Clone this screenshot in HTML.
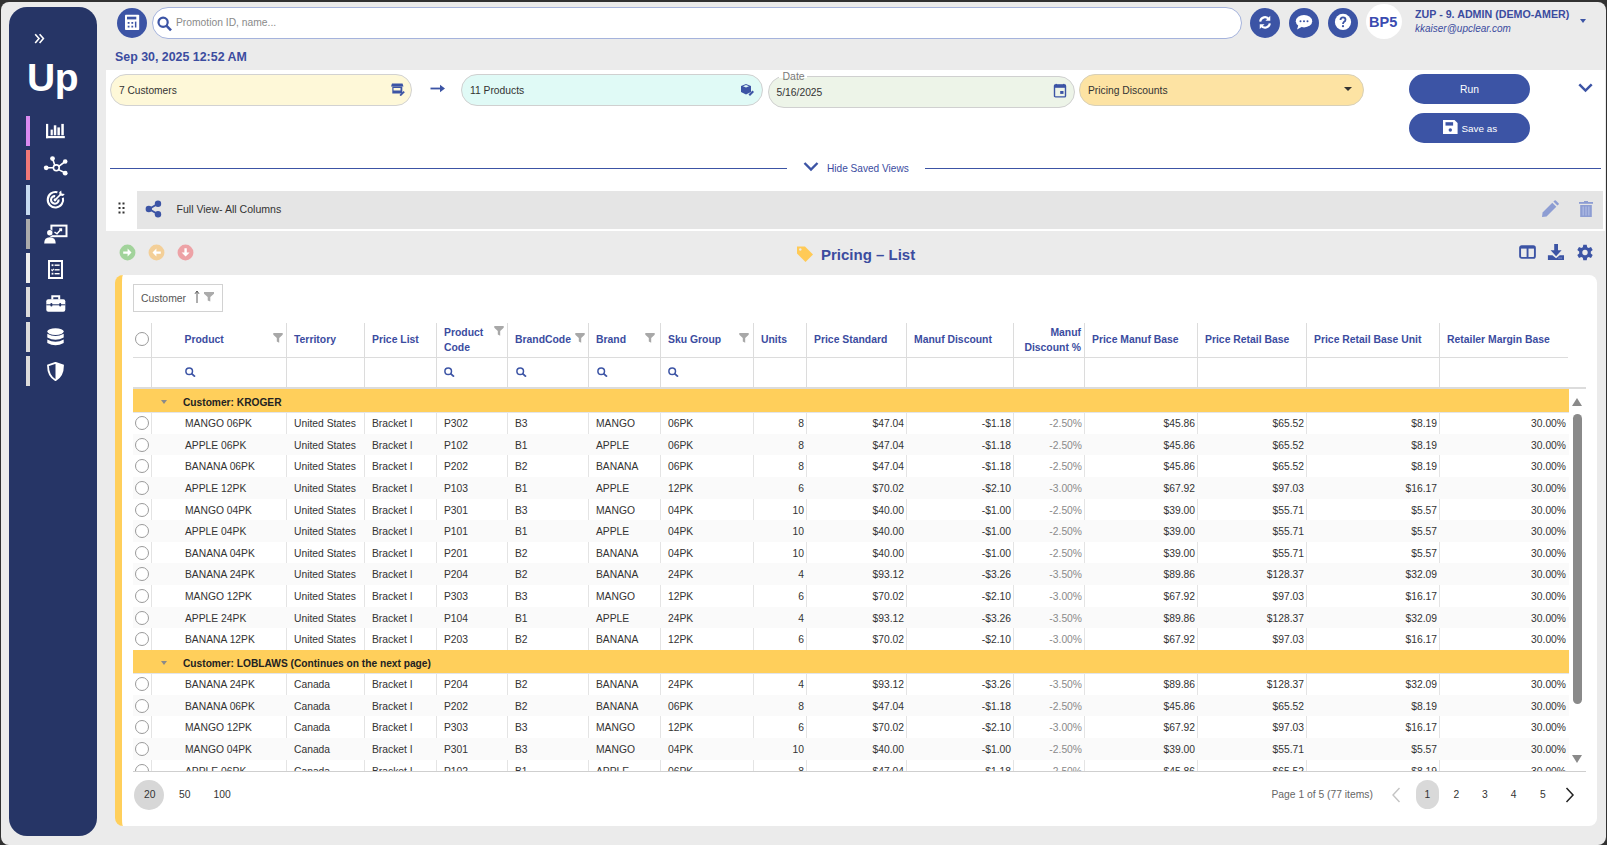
<!DOCTYPE html>
<html><head><meta charset="utf-8">
<style>
*{box-sizing:border-box;margin:0;padding:0}
html,body{width:1607px;height:845px;overflow:hidden;background:#313131;font-family:"Liberation Sans",sans-serif;color:#333}
.a{position:absolute}
.win{position:absolute;left:1px;top:2px;width:1605px;height:843px;background:#ebebeb;border-radius:8px}
.side{position:absolute;left:9px;top:7px;width:88px;height:829px;background:#263566;border-radius:18px}
.bar{position:absolute;left:26px;width:4px;height:30px}
.sico{position:absolute;left:46px;width:18px;height:18px}
.circ{position:absolute;width:30px;height:30px;border-radius:50%;background:#3c54a5}
.circ svg{position:absolute;left:0;top:0}
.t{position:absolute;white-space:nowrap;line-height:1}
.blue{color:#3b4c9f}
.pill{position:absolute;height:31.5px;border-radius:16px;border:1px solid #d0d0d0}
.btn{position:absolute;left:1409px;width:121px;height:30px;border-radius:15px;background:#3c54a5;color:#fff}
.tbl{position:absolute;left:133px;top:323px;width:1453px;height:449px;overflow:hidden}
.hl{position:absolute;background:#dcdcdc}
.hv{position:absolute;top:0;width:1px;height:64px;background:#dcdcdc}
.ht{position:absolute;font-size:10.4px;font-weight:bold;color:#3b4c9f;white-space:nowrap;line-height:1}
.fun{position:absolute;width:10px;height:10px}
.srch{position:absolute;top:44px;width:11px;height:10px}
.body{position:absolute;left:0;top:66px;width:1436px;height:382px;overflow:hidden}
.vl{position:absolute;top:0;width:1px;height:382px;background:#e4e4e4}
.row{position:absolute;left:0;width:1436px;height:21.64px}
.row.alt{background:#fafafa}
.rad{position:absolute;left:2px;top:4px;width:14px;height:14px;border-radius:50%;border:1px solid #9a9a9a;background:#fff}
.c{position:absolute;top:1px;height:21.64px;line-height:21.64px;font-size:10.3px;color:#333;padding-left:7px;white-space:nowrap;overflow:hidden}
.c.r{text-align:right;padding-left:0;padding-right:2px}
.c.g{color:#8a8a8a}
.grp{position:absolute;left:0;width:1436px;height:23px;background:#ffcf5b}
.grp::after{content:"";position:absolute;left:0;top:23px;width:100%;height:1px;background:#e3e5e9}
.grp b{position:absolute;left:50px;top:8.5px;font-size:10.2px;color:#222;white-space:nowrap;line-height:1}
.grp i{position:absolute;left:28px;top:11px;width:0;height:0;border-left:3.5px solid transparent;border-right:3.5px solid transparent;border-top:4px solid #8a8a8a}
</style></head>
<body>
<div class="win"></div>

<!-- SIDEBAR -->
<div class="side">
  <svg class="a" style="left:25px;top:26px" width="12" height="12" viewBox="0 0 12 12"><path d="M1.2 1.2 L5 5.6 L1.2 10 M5.6 1.2 L9.4 5.6 L5.6 10" fill="none" stroke="#fff" stroke-width="1.6"/></svg>
  <div class="t" style="left:18px;top:51px;font-size:39px;font-weight:bold;color:#fff;letter-spacing:-0.3px">Up</div>
  <i class="bar" style="left:17px;top:109px;background:#d98af0"></i>
  <i class="bar" style="left:17px;top:143px;background:#f07878"></i>
  <i class="bar" style="left:17px;top:178px;background:#c7dbf0"></i>
  <i class="bar" style="left:17px;top:212px;background:#ababab"></i>
  <i class="bar" style="left:17px;top:246px;background:#ededed"></i>
  <i class="bar" style="left:17px;top:280px;background:#dcdcdc"></i>
  <i class="bar" style="left:17px;top:315px;background:#dcdcdc"></i>
  <i class="bar" style="left:17px;top:349px;background:#dcdcdc"></i>
  <!-- icons -->
  <svg class="a" style="left:36px;top:116px" width="21" height="16" viewBox="0 0 21 16"><g fill="#fff"><rect x="1" y="0.9" width="2.2" height="14.3"/><rect x="1" y="13" width="18.8" height="2.2"/><rect x="5.6" y="6.6" width="2.2" height="5.7"/><rect x="8.8" y="2.3" width="2.5" height="10"/><rect x="12.4" y="4.4" width="2.5" height="7.9"/><rect x="16.3" y="0.9" width="2.5" height="11.4"/></g></svg>
  <svg class="a" style="left:34px;top:149px" width="25" height="21" viewBox="0 0 25 21"><g stroke="#fff" stroke-width="1.6" fill="none"><circle cx="13.3" cy="11.8" r="2.9"/><path d="M11.8 9.3 L9.5 2.5 M15.8 10.3 L22.2 5.5 M10.4 11.8 H3.2 M15.6 13.6 L22.2 17"/></g><g fill="#fff"><circle cx="9.5" cy="2.6" r="2.4"/><circle cx="22.2" cy="5.5" r="2.3"/><circle cx="3.2" cy="11.8" r="2.4"/><circle cx="22.2" cy="17.2" r="2.4"/></g></svg>
  <svg class="a" style="left:37px;top:183px" width="20" height="20" viewBox="0 0 20 20"><g fill="none" stroke="#fff" stroke-width="2.1"><path d="M16.9 7.8 A7.7 7.7 0 1 1 11.4 2.3"/><path d="M12.6 9.5 A3.8 3.8 0 1 1 9.2 6.1"/></g><circle cx="9" cy="10" r="1.4" fill="#fff"/><path d="M9.2 9.8 L15 4" stroke="#fff" stroke-width="1.7"/><path d="M13.2 2.2 L15.2 0.5 L15.6 3.6 L18.8 4 L17 6 L13.8 5.6 Z" fill="#fff"/></svg>
  <svg class="a" style="left:35px;top:217px" width="24" height="20" viewBox="0 0 24 20"><rect x="7.4" y="1.6" width="15.1" height="10.6" fill="none" stroke="#fff" stroke-width="2"/><path d="M10.5 8 L13 9.8 L17 5.3 M15.2 5 H17.4 V7.2" fill="none" stroke="#fff" stroke-width="1.5"/><circle cx="5.8" cy="8.8" r="3.3" fill="#263566"/><circle cx="5.8" cy="8.8" r="2.7" fill="#fff"/><path d="M0.2 19.5 Q0.2 13.2 5.8 13.2 Q11.7 13.2 11.7 19.5 Z" fill="#fff"/></svg>
  <svg class="a" style="left:39px;top:252.5px" width="15" height="19" viewBox="0 0 15 19"><rect x="1" y="1" width="13" height="17" fill="none" stroke="#fff" stroke-width="2"/><g fill="#fff"><rect x="3.6" y="4.3" width="1.8" height="1.8"/><rect x="6.6" y="4.5" width="5" height="1.4"/><path d="M3.3 9.5 L4.4 10.6 L5.8 8.8" fill="none" stroke="#fff" stroke-width="1.1"/><rect x="6.6" y="9.1" width="5" height="1.4"/><rect x="3.6" y="12.8" width="1.8" height="1.8"/><rect x="6.6" y="13" width="5" height="1.4"/></g></svg>
  <svg class="a" style="left:36.5px;top:287.5px" width="20" height="18" viewBox="0 0 20 18"><path d="M6.3 4.5 V1.3 H13.2 V4.5" fill="none" stroke="#fff" stroke-width="2"/><rect x="0.3" y="4.3" width="19" height="12.4" rx="2" fill="#fff"/><rect x="0.3" y="9.3" width="19" height="1" fill="#263566"/><rect x="4.4" y="8" width="2" height="3.4" rx="1" fill="#263566"/><rect x="13.2" y="8" width="2" height="3.4" rx="1" fill="#263566"/></svg>
  <svg class="a" style="left:38px;top:321px" width="17" height="19" viewBox="0 0 17 19"><ellipse cx="8.5" cy="3.6" rx="8.2" ry="3.4" fill="#fff"/><path d="M0.3 5.8 Q8.5 10.4 16.7 5.8 V9.4 Q8.5 14 0.3 9.4 Z" fill="#fff"/><path d="M0.3 11.4 Q8.5 16 16.7 11.4 V15 Q8.5 19.6 0.3 15 Z" fill="#fff"/></svg>
  <svg class="a" style="left:38px;top:355px" width="17" height="19" viewBox="0 0 17 19"><path d="M8.5 0.8 L16 3.5 Q16 14 8.5 18.2 Q1 14 1 3.5 Z" fill="none" stroke="#fff" stroke-width="1.8"/><path d="M8.5 0.8 L16 3.5 Q16 14 8.5 18.2 Z" fill="#fff"/></svg>
</div>

<!-- TOP BAR -->
<div class="circ" style="left:117px;top:8px"><svg width="30" height="30" viewBox="0 0 30 30"><rect x="8" y="6.7" width="14.2" height="15.3" rx="0.8" fill="#fff"/><rect x="10" y="8.7" width="9.3" height="2.7" fill="#3c54a5"/><g fill="#3c54a5"><rect x="10.7" y="14" width="1.8" height="1.8"/><rect x="14.4" y="14" width="1.8" height="1.8"/><rect x="10.7" y="17.7" width="1.8" height="1.8"/><rect x="14.4" y="17.7" width="1.8" height="1.8"/><rect x="17.9" y="13.6" width="1.5" height="5.9"/></g></svg></div>
<div class="a" style="left:152px;top:7px;width:1090px;height:32px;border-radius:16px;border:1px solid #a5b3dc;background:#fff"></div>
<svg class="a" style="left:157px;top:16px" width="16" height="16" viewBox="0 0 16 16"><circle cx="6.1" cy="6.3" r="4.6" fill="none" stroke="#3c54a5" stroke-width="2.2"/><path d="M9.4 9.7 L14 14.3" stroke="#3c54a5" stroke-width="2.6"/></svg>
<div class="t" style="left:176px;top:18px;font-size:10.3px;color:#8a8a8a">Promotion ID, name...</div>

<div class="circ" style="left:1250px;top:8px"><svg width="30" height="30" viewBox="0 0 30 30"><g transform="translate(15 14.4) scale(0.88) translate(-15 -15)"><g fill="none" stroke="#fff" stroke-width="2.4"><path d="M9.5 14 A5.5 5.5 0 0 1 19.5 11.5"/><path d="M20.5 16 A5.5 5.5 0 0 1 10.5 18.5"/></g><path d="M21 7.5 V13 H15.5 Z" fill="#fff"/><path d="M9 22.5 V17 H14.5 Z" fill="#fff"/></g></svg></div>
<div class="circ" style="left:1289px;top:8px"><svg width="30" height="30" viewBox="0 0 30 30"><ellipse cx="15" cy="13.2" rx="8.2" ry="6.2" fill="#fff"/><path d="M9.5 16.8 L8 21.5 L13 18.8 Z" fill="#fff"/><g fill="#3c54a5"><circle cx="11.5" cy="13.2" r="1"/><circle cx="15" cy="13.2" r="1"/><circle cx="18.5" cy="13.2" r="1"/></g></svg></div>
<div class="circ" style="left:1328px;top:8px"><svg width="30" height="30" viewBox="0 0 30 30"><circle cx="15" cy="13.9" r="8.1" fill="#fff"/><path d="M12.5 11.9 Q12.5 9.3 15 9.3 Q17.5 9.3 17.5 11.7 Q17.5 13 15.9 13.9 Q15 14.5 15 16" fill="none" stroke="#3c54a5" stroke-width="1.8"/><circle cx="15" cy="18.2" r="1.1" fill="#3c54a5"/></svg></div>
<div class="a" style="left:1366px;top:4px;width:36px;height:35px;border-radius:50%;background:#fff"></div>
<div class="t" style="left:1369px;top:15px;font-size:14.5px;font-weight:bold;color:#3a4bb0">BP5</div>
<div class="t blue" style="left:1415px;top:9px;font-size:10.7px;font-weight:bold">ZUP - 9. ADMIN (DEMO-AMER)</div>
<div class="t blue" style="left:1415px;top:24px;font-size:10px;font-style:italic">kkaiser@upclear.com</div>
<i class="a" style="left:1580px;top:19px;width:0;height:0;border-left:3.5px solid transparent;border-right:3.5px solid transparent;border-top:4px solid #3c54a5"></i>

<div class="t blue" style="left:115px;top:51px;font-size:12.4px;font-weight:bold">Sep 30, 2025 12:52 AM</div>

<!-- WHITE PANEL -->
<div class="a" style="left:106px;top:70px;width:1499px;height:161px;background:#fff"></div>

<div class="pill" style="left:110px;top:74px;width:302px;background:#fef8d8;border-color:#d2d2d2"></div>
<div class="t" style="left:119px;top:86px;font-size:10.2px;color:#333">7 Customers</div>
<svg class="a" style="left:390.5px;top:82px" width="14" height="14" viewBox="0 0 14 14"><path d="M1 1.5 H11.5 L12.5 4.5 H0 Z" fill="#3c54a5"/><rect x="1.3" y="4.5" width="10" height="7" fill="#3c54a5"/><rect x="2.5" y="6" width="7" height="2.5" fill="#fef8d8"/><path d="M8.5 13 L12.5 9 L13.8 10.3 L9.8 14.2 Z" fill="#3c54a5"/></svg>
<svg class="a" style="left:430px;top:84px" width="16" height="9" viewBox="0 0 16 9"><path d="M0.5 4.5 H12" stroke="#3c54a5" stroke-width="1.8"/><path d="M10 0.8 L15 4.5 L10 8.2 Z" fill="#3c54a5"/></svg>

<div class="pill" style="left:461px;top:74px;width:302px;background:#e0faf6;border-color:#d0d0d0"></div>
<div class="t" style="left:470px;top:86px;font-size:10.3px;color:#333">11 Products</div>
<svg class="a" style="left:740px;top:83px" width="15" height="14" viewBox="0 0 15 14"><path d="M1 3 L6 1 L11 3 V9 L6 11.5 L1 9 Z" fill="#3c54a5"/><path d="M3 3.2 L6 2.1 L9 3.2 L6 4.4 Z" fill="#e0faf6"/><path d="M8.5 11.5 L12.5 7.5 L14 9 L10 13 Z" fill="#3c54a5"/></svg>

<div class="pill" style="left:768px;top:76px;width:307px;background:#edf4e8;border-color:#d0d0d0"></div>
<div class="a" style="left:779px;top:70px;width:28px;height:8px;background:#fff"></div>
<div class="t" style="left:782.5px;top:71px;font-size:10.5px;color:#7a7a7a">Date</div>
<div class="t" style="left:776.5px;top:88px;font-size:10.3px;color:#333">5/16/2025</div>
<svg class="a" style="left:1053px;top:83px" width="14" height="15" viewBox="0 0 14 15"><rect x="1.5" y="2" width="11" height="11.9" rx="1" fill="none" stroke="#3c54a5" stroke-width="1.4"/><rect x="1" y="1.8" width="12" height="3" fill="#3c54a5"/><rect x="2.6" y="0.9" width="1.4" height="1.5" fill="#3c54a5"/><rect x="10" y="0.9" width="1.4" height="1.5" fill="#3c54a5"/><rect x="7.2" y="8" width="3.3" height="2.9" fill="#3c54a5"/></svg>

<div class="pill" style="left:1079px;top:74px;width:285px;background:#fde3a3;border-color:#d8d0b8"></div>
<div class="t" style="left:1088px;top:86px;font-size:10.3px;color:#333">Pricing Discounts</div>
<i class="a" style="left:1344px;top:87px;width:0;height:0;border-left:4.5px solid transparent;border-right:4.5px solid transparent;border-top:4.5px solid #333"></i>

<div class="btn" style="top:74px"><div class="t" style="left:51px;top:11px;font-size:10.3px">Run</div></div>
<div class="btn" style="top:113px"><svg class="a" style="left:33.5px;top:6.7px" width="15" height="14" viewBox="0 0 15 14"><path d="M0 0 H11.5 L14.6 3.1 V14 H0 Z" fill="#fff"/><rect x="2.5" y="2.2" width="7.6" height="3.4" fill="#3c54a5"/><circle cx="7.3" cy="10" r="1.7" fill="#3c54a5"/></svg><div class="t" style="left:52.5px;top:10.8px;font-size:9.9px">Save as</div></div>
<svg class="a" style="left:1578px;top:83px" width="15" height="10" viewBox="0 0 15 10"><path d="M1.3 1.4 L7.5 7.6 L13.7 1.4" fill="none" stroke="#3c54a5" stroke-width="2.5"/></svg>

<i class="a" style="left:110px;top:168px;width:677px;height:1px;background:#3c54a5"></i>
<i class="a" style="left:925px;top:168px;width:676px;height:1px;background:#3c54a5"></i>
<svg class="a" style="left:803px;top:161px" width="16" height="11" viewBox="0 0 16 11"><path d="M1.5 2 L8 8.5 L14.5 2" fill="none" stroke="#3c54a5" stroke-width="2.4"/></svg>
<div class="t blue" style="left:827px;top:164px;font-size:10.1px">Hide Saved Views</div>

<div class="a" style="left:137px;top:191px;width:1466px;height:38px;background:#e5e5e5"></div>
<svg class="a" style="left:118px;top:202px" width="7" height="12" viewBox="0 0 7 12"><g fill="#333"><rect x="0.5" y="0.5" width="2" height="2"/><rect x="4.5" y="0.5" width="2" height="2"/><rect x="0.5" y="5" width="2" height="2"/><rect x="4.5" y="5" width="2" height="2"/><rect x="0.5" y="9.5" width="2" height="2"/><rect x="4.5" y="9.5" width="2" height="2"/></g></svg>
<svg class="a" style="left:145px;top:200px" width="17" height="18" viewBox="0 0 17 18"><path d="M4 9 L12.5 4 M4 9 L12.5 14" stroke="#3c54a5" stroke-width="2"/><circle cx="3.8" cy="9" r="3.2" fill="#3c54a5"/><circle cx="13" cy="3.8" r="3.2" fill="#3c54a5"/><circle cx="13" cy="14.2" r="3.2" fill="#3c54a5"/></svg>
<div class="t" style="left:176.5px;top:204px;font-size:10.55px;color:#333">Full View- All Columns</div>
<svg class="a" style="left:1541px;top:200px" width="18" height="18" viewBox="0 0 18 18"><path d="M1 17 L1.6 12.4 L11.3 2.7 L15.3 6.7 L5.6 16.4 Z" fill="#8d9dd3"/><path d="M12.4 1.6 L13.6 0.4 Q14.2 -0.1 14.8 0.4 L17.6 3.2 Q18.1 3.8 17.6 4.4 L16.4 5.6 Z" fill="#8d9dd3"/></svg>
<svg class="a" style="left:1579px;top:201px" width="14" height="16" viewBox="0 0 14 16"><rect x="0" y="1" width="14" height="1.8" fill="#8d9dd3"/><rect x="5" y="0" width="4" height="1.2" fill="#8d9dd3"/><rect x="1.2" y="4" width="11.6" height="12" fill="#8d9dd3"/><g fill="#b3bfe6"><rect x="3.6" y="5.5" width="1.1" height="9"/><rect x="6.45" y="5.5" width="1.1" height="9"/><rect x="9.3" y="5.5" width="1.1" height="9"/></g></svg>

<!-- ACTION CIRCLES -->
<svg class="a" style="left:119px;top:244px" width="17" height="17" viewBox="0 0 17 17"><circle cx="8.5" cy="8.5" r="7.9" fill="#a2d39b"/><path d="M4.2 7.4 H8.6 V4.6 L12.5 8.6 L8.6 12.6 V9.8 H4.2 Z" fill="#fff"/></svg>
<svg class="a" style="left:147.5px;top:244px" width="17" height="17" viewBox="0 0 17 17"><circle cx="8.5" cy="8.5" r="7.9" fill="#f3cf98"/><path d="M12.8 7.4 H8.4 V4.6 L4.5 8.6 L8.4 12.6 V9.8 H12.8 Z" fill="#fff"/></svg>
<svg class="a" style="left:176.5px;top:244px" width="17" height="17" viewBox="0 0 17 17"><circle cx="8.5" cy="8.5" r="7.9" fill="#eda2a6"/><path d="M7.4 4.2 V8.6 H4.6 L8.6 12.5 L12.6 8.6 H9.8 V4.2 Z" fill="#fff"/></svg>

<!-- TITLE -->
<svg class="a" style="left:796px;top:245px" width="18" height="18" viewBox="0 0 18 18"><path d="M1 1.5 H9 L17 9.5 L9.5 17 L1 8.5 Z" fill="#ffca56"/><circle cx="4.3" cy="4.5" r="1.2" fill="#ebebeb"/></svg>
<div class="t blue" style="left:821px;top:247px;font-size:15px;font-weight:bold">Pricing – List</div>
<svg class="a" style="left:1519px;top:245px" width="17" height="14" viewBox="0 0 17 14"><rect x="1.1" y="1.1" width="14.8" height="11.8" rx="1.6" fill="none" stroke="#3c54a5" stroke-width="1.9"/><rect x="1" y="1" width="15" height="2.6" fill="#3c54a5"/><rect x="7.6" y="2" width="1.9" height="10" fill="#3c54a5"/></svg>
<svg class="a" style="left:1547px;top:244px" width="18" height="16" viewBox="0 0 18 16"><path d="M7.2 0 H11 V6.3 H14.6 L9.1 12.2 L3.6 6.3 H7.2 Z" fill="#3c54a5"/><path d="M0.9 11.2 H5.4 L9.1 14.3 L12.8 11.2 H17 V15.9 H0.9 Z" fill="#3c54a5"/><rect x="11.4" y="13.6" width="1.3" height="0.9" fill="#a9b3de"/><rect x="13.4" y="13.6" width="1.3" height="0.9" fill="#a9b3de"/></svg>
<svg class="a" style="left:1576px;top:243.5px" width="18" height="18" viewBox="0 0 18 18"><path fill="#3c54a5" d="M7.3 0.8h3.4l0.5 2.4 1.5 0.8 2.3-0.9 1.7 2.9-1.9 1.6v1.8l1.9 1.6-1.7 2.9-2.3-0.9-1.5 0.8-0.5 2.4H7.3l-0.5-2.4-1.5-0.8-2.3 0.9-1.7-2.9 1.9-1.6V7.6L1.3 6 3 3.1l2.3 0.9 1.5-0.8z"/><circle cx="9" cy="8.5" r="2.7" fill="#ebebeb"/></svg>

<!-- CONTENT CARD -->
<div class="a" style="left:115px;top:275px;width:1482px;height:551px;background:#fff;border-radius:8px;border-left:7px solid #ffcf5b"></div>

<div class="a" style="left:133px;top:284px;width:90px;height:28px;border:1px solid #d2d2d2"></div>
<div class="t" style="left:141px;top:294px;font-size:10.4px;color:#555">Customer</div>
<svg class="a" style="left:193.5px;top:290px" width="6" height="14" viewBox="0 0 6 14"><path d="M3 1.5 V13" stroke="#4a4a4a" stroke-width="0.9"/><path d="M1 3.8 L3 1 L5 3.8" fill="none" stroke="#4a4a4a" stroke-width="0.9"/></svg>
<svg class="a" style="left:204px;top:292px" width="10" height="10" viewBox="0 0 10 10"><path d="M0 0 H10 V1.8 L6.3 5 V9.5 L3.7 8.5 V5 L0 1.8 Z" fill="#ababab"/></svg>

<!-- TABLE -->
<div class="tbl">
  <i class="hl" style="left:0;top:34px;width:1435px;height:1px"></i>
  <i class="hl" style="left:0;top:64px;width:1453px;height:2px"></i>
  <i class="hv" style="left:18px"></i><i class="hv" style="left:153px"></i><i class="hv" style="left:231px"></i><i class="hv" style="left:303px"></i><i class="hv" style="left:374px"></i><i class="hv" style="left:455px"></i><i class="hv" style="left:527px"></i><i class="hv" style="left:620px"></i><i class="hv" style="left:673px"></i><i class="hv" style="left:773px"></i><i class="hv" style="left:880px"></i><i class="hv" style="left:951px"></i><i class="hv" style="left:1064px"></i><i class="hv" style="left:1173px"></i><i class="hv" style="left:1306px"></i>
  <i class="a" style="left:2px;top:9px;width:14px;height:14px;border-radius:50%;border:1px solid #9a9a9a"></i>
  <div class="ht" style="left:51.5px;top:12.0px">Product</div>
  <div class="ht" style="left:161px;top:12.0px">Territory</div>
  <div class="ht" style="left:239px;top:12.0px">Price List</div>
  <div class="ht" style="left:311px;top:5.0px">Product</div>
  <div class="ht" style="left:311px;top:20.0px">Code</div>
  <div class="ht" style="left:382px;top:12.0px">BrandCode</div>
  <div class="ht" style="left:463px;top:12.0px">Brand</div>
  <div class="ht" style="left:535px;top:12.0px">Sku Group</div>
  <div class="ht" style="left:628px;top:12.0px">Units</div>
  <div class="ht" style="left:681px;top:12.0px">Price Standard</div>
  <div class="ht" style="left:781px;top:12.0px">Manuf Discount</div>
  <div class="ht" style="left:881px;top:5.0px;width:67px;text-align:right">Manuf</div>
  <div class="ht" style="left:881px;top:20.0px;width:67px;text-align:right">Discount %</div>
  <div class="ht" style="left:959px;top:12.0px">Price Manuf Base</div>
  <div class="ht" style="left:1072px;top:12.0px">Price Retail Base</div>
  <div class="ht" style="left:1181px;top:12.0px">Price Retail Base Unit</div>
  <div class="ht" style="left:1314px;top:12.0px">Retailer Margin Base</div>
  <svg class="fun" style="left:140px;top:10px" width="10" height="10" viewBox="0 0 10 10"><path d="M0.3 0 H9.7 V1.8 L6.2 5 V9.8 L3.8 8.6 V5 L0.3 1.8 Z" fill="#a8a8a8"/></svg><svg class="fun" style="left:361px;top:3px" width="10" height="10" viewBox="0 0 10 10"><path d="M0.3 0 H9.7 V1.8 L6.2 5 V9.8 L3.8 8.6 V5 L0.3 1.8 Z" fill="#a8a8a8"/></svg><svg class="fun" style="left:442px;top:10px" width="10" height="10" viewBox="0 0 10 10"><path d="M0.3 0 H9.7 V1.8 L6.2 5 V9.8 L3.8 8.6 V5 L0.3 1.8 Z" fill="#a8a8a8"/></svg><svg class="fun" style="left:512px;top:10px" width="10" height="10" viewBox="0 0 10 10"><path d="M0.3 0 H9.7 V1.8 L6.2 5 V9.8 L3.8 8.6 V5 L0.3 1.8 Z" fill="#a8a8a8"/></svg><svg class="fun" style="left:606px;top:10px" width="10" height="10" viewBox="0 0 10 10"><path d="M0.3 0 H9.7 V1.8 L6.2 5 V9.8 L3.8 8.6 V5 L0.3 1.8 Z" fill="#a8a8a8"/></svg>
  <svg class="srch" style="left:52px" width="11" height="10" viewBox="0 0 11 10"><circle cx="4.2" cy="4.2" r="3.3" fill="none" stroke="#3c54a5" stroke-width="1.5"/><path d="M6.6 6.6 L10 9.6" stroke="#3c54a5" stroke-width="1.8"/></svg><svg class="srch" style="left:311px" width="11" height="10" viewBox="0 0 11 10"><circle cx="4.2" cy="4.2" r="3.3" fill="none" stroke="#3c54a5" stroke-width="1.5"/><path d="M6.6 6.6 L10 9.6" stroke="#3c54a5" stroke-width="1.8"/></svg><svg class="srch" style="left:383px" width="11" height="10" viewBox="0 0 11 10"><circle cx="4.2" cy="4.2" r="3.3" fill="none" stroke="#3c54a5" stroke-width="1.5"/><path d="M6.6 6.6 L10 9.6" stroke="#3c54a5" stroke-width="1.8"/></svg><svg class="srch" style="left:464px" width="11" height="10" viewBox="0 0 11 10"><circle cx="4.2" cy="4.2" r="3.3" fill="none" stroke="#3c54a5" stroke-width="1.5"/><path d="M6.6 6.6 L10 9.6" stroke="#3c54a5" stroke-width="1.8"/></svg><svg class="srch" style="left:535px" width="11" height="10" viewBox="0 0 11 10"><circle cx="4.2" cy="4.2" r="3.3" fill="none" stroke="#3c54a5" stroke-width="1.5"/><path d="M6.6 6.6 L10 9.6" stroke="#3c54a5" stroke-width="1.8"/></svg>
  <div class="body">
    <i class="vl" style="left:18px"></i><i class="vl" style="left:153px"></i><i class="vl" style="left:231px"></i><i class="vl" style="left:303px"></i><i class="vl" style="left:374px"></i><i class="vl" style="left:455px"></i><i class="vl" style="left:527px"></i><i class="vl" style="left:620px"></i><i class="vl" style="left:673px"></i><i class="vl" style="left:773px"></i><i class="vl" style="left:880px"></i><i class="vl" style="left:951px"></i><i class="vl" style="left:1064px"></i><i class="vl" style="left:1173px"></i><i class="vl" style="left:1306px"></i>
    <div class="grp" style="top:0"><i></i><b>Customer: KROGER</b></div>
    <div class="grp" style="top:261px"><i></i><b>Customer: LOBLAWS (Continues on the next page)</b></div>
    <div class="row" style="top:23.0px"><i class="rad"></i><span class="c" style="left:19px;width:134px;padding-left:33px">MANGO 06PK</span><span class="c" style="left:154px;width:77px">United States</span><span class="c" style="left:232px;width:71px">Bracket I</span><span class="c" style="left:304px;width:70px">P302</span><span class="c" style="left:375px;width:80px">B3</span><span class="c" style="left:456px;width:71px">MANGO</span><span class="c" style="left:528px;width:92px">06PK</span><span class="c r" style="left:621px;width:52px">8</span><span class="c r" style="left:674px;width:99px">$47.04</span><span class="c r" style="left:774px;width:106px">-$1.18</span><span class="c r g" style="left:881px;width:70px">-2.50%</span><span class="c r" style="left:952px;width:112px">$45.86</span><span class="c r" style="left:1065px;width:108px">$65.52</span><span class="c r" style="left:1174px;width:132px">$8.19</span><span class="c r" style="left:1307px;width:128px">30.00%</span></div>
<div class="row alt" style="top:44.64px"><i class="rad"></i><span class="c" style="left:19px;width:134px;padding-left:33px">APPLE 06PK</span><span class="c" style="left:154px;width:77px">United States</span><span class="c" style="left:232px;width:71px">Bracket I</span><span class="c" style="left:304px;width:70px">P102</span><span class="c" style="left:375px;width:80px">B1</span><span class="c" style="left:456px;width:71px">APPLE</span><span class="c" style="left:528px;width:92px">06PK</span><span class="c r" style="left:621px;width:52px">8</span><span class="c r" style="left:674px;width:99px">$47.04</span><span class="c r" style="left:774px;width:106px">-$1.18</span><span class="c r g" style="left:881px;width:70px">-2.50%</span><span class="c r" style="left:952px;width:112px">$45.86</span><span class="c r" style="left:1065px;width:108px">$65.52</span><span class="c r" style="left:1174px;width:132px">$8.19</span><span class="c r" style="left:1307px;width:128px">30.00%</span></div>
<div class="row" style="top:66.28px"><i class="rad"></i><span class="c" style="left:19px;width:134px;padding-left:33px">BANANA 06PK</span><span class="c" style="left:154px;width:77px">United States</span><span class="c" style="left:232px;width:71px">Bracket I</span><span class="c" style="left:304px;width:70px">P202</span><span class="c" style="left:375px;width:80px">B2</span><span class="c" style="left:456px;width:71px">BANANA</span><span class="c" style="left:528px;width:92px">06PK</span><span class="c r" style="left:621px;width:52px">8</span><span class="c r" style="left:674px;width:99px">$47.04</span><span class="c r" style="left:774px;width:106px">-$1.18</span><span class="c r g" style="left:881px;width:70px">-2.50%</span><span class="c r" style="left:952px;width:112px">$45.86</span><span class="c r" style="left:1065px;width:108px">$65.52</span><span class="c r" style="left:1174px;width:132px">$8.19</span><span class="c r" style="left:1307px;width:128px">30.00%</span></div>
<div class="row alt" style="top:87.92px"><i class="rad"></i><span class="c" style="left:19px;width:134px;padding-left:33px">APPLE 12PK</span><span class="c" style="left:154px;width:77px">United States</span><span class="c" style="left:232px;width:71px">Bracket I</span><span class="c" style="left:304px;width:70px">P103</span><span class="c" style="left:375px;width:80px">B1</span><span class="c" style="left:456px;width:71px">APPLE</span><span class="c" style="left:528px;width:92px">12PK</span><span class="c r" style="left:621px;width:52px">6</span><span class="c r" style="left:674px;width:99px">$70.02</span><span class="c r" style="left:774px;width:106px">-$2.10</span><span class="c r g" style="left:881px;width:70px">-3.00%</span><span class="c r" style="left:952px;width:112px">$67.92</span><span class="c r" style="left:1065px;width:108px">$97.03</span><span class="c r" style="left:1174px;width:132px">$16.17</span><span class="c r" style="left:1307px;width:128px">30.00%</span></div>
<div class="row" style="top:109.56px"><i class="rad"></i><span class="c" style="left:19px;width:134px;padding-left:33px">MANGO 04PK</span><span class="c" style="left:154px;width:77px">United States</span><span class="c" style="left:232px;width:71px">Bracket I</span><span class="c" style="left:304px;width:70px">P301</span><span class="c" style="left:375px;width:80px">B3</span><span class="c" style="left:456px;width:71px">MANGO</span><span class="c" style="left:528px;width:92px">04PK</span><span class="c r" style="left:621px;width:52px">10</span><span class="c r" style="left:674px;width:99px">$40.00</span><span class="c r" style="left:774px;width:106px">-$1.00</span><span class="c r g" style="left:881px;width:70px">-2.50%</span><span class="c r" style="left:952px;width:112px">$39.00</span><span class="c r" style="left:1065px;width:108px">$55.71</span><span class="c r" style="left:1174px;width:132px">$5.57</span><span class="c r" style="left:1307px;width:128px">30.00%</span></div>
<div class="row alt" style="top:131.2px"><i class="rad"></i><span class="c" style="left:19px;width:134px;padding-left:33px">APPLE 04PK</span><span class="c" style="left:154px;width:77px">United States</span><span class="c" style="left:232px;width:71px">Bracket I</span><span class="c" style="left:304px;width:70px">P101</span><span class="c" style="left:375px;width:80px">B1</span><span class="c" style="left:456px;width:71px">APPLE</span><span class="c" style="left:528px;width:92px">04PK</span><span class="c r" style="left:621px;width:52px">10</span><span class="c r" style="left:674px;width:99px">$40.00</span><span class="c r" style="left:774px;width:106px">-$1.00</span><span class="c r g" style="left:881px;width:70px">-2.50%</span><span class="c r" style="left:952px;width:112px">$39.00</span><span class="c r" style="left:1065px;width:108px">$55.71</span><span class="c r" style="left:1174px;width:132px">$5.57</span><span class="c r" style="left:1307px;width:128px">30.00%</span></div>
<div class="row" style="top:152.84px"><i class="rad"></i><span class="c" style="left:19px;width:134px;padding-left:33px">BANANA 04PK</span><span class="c" style="left:154px;width:77px">United States</span><span class="c" style="left:232px;width:71px">Bracket I</span><span class="c" style="left:304px;width:70px">P201</span><span class="c" style="left:375px;width:80px">B2</span><span class="c" style="left:456px;width:71px">BANANA</span><span class="c" style="left:528px;width:92px">04PK</span><span class="c r" style="left:621px;width:52px">10</span><span class="c r" style="left:674px;width:99px">$40.00</span><span class="c r" style="left:774px;width:106px">-$1.00</span><span class="c r g" style="left:881px;width:70px">-2.50%</span><span class="c r" style="left:952px;width:112px">$39.00</span><span class="c r" style="left:1065px;width:108px">$55.71</span><span class="c r" style="left:1174px;width:132px">$5.57</span><span class="c r" style="left:1307px;width:128px">30.00%</span></div>
<div class="row alt" style="top:174.48px"><i class="rad"></i><span class="c" style="left:19px;width:134px;padding-left:33px">BANANA 24PK</span><span class="c" style="left:154px;width:77px">United States</span><span class="c" style="left:232px;width:71px">Bracket I</span><span class="c" style="left:304px;width:70px">P204</span><span class="c" style="left:375px;width:80px">B2</span><span class="c" style="left:456px;width:71px">BANANA</span><span class="c" style="left:528px;width:92px">24PK</span><span class="c r" style="left:621px;width:52px">4</span><span class="c r" style="left:674px;width:99px">$93.12</span><span class="c r" style="left:774px;width:106px">-$3.26</span><span class="c r g" style="left:881px;width:70px">-3.50%</span><span class="c r" style="left:952px;width:112px">$89.86</span><span class="c r" style="left:1065px;width:108px">$128.37</span><span class="c r" style="left:1174px;width:132px">$32.09</span><span class="c r" style="left:1307px;width:128px">30.00%</span></div>
<div class="row" style="top:196.12px"><i class="rad"></i><span class="c" style="left:19px;width:134px;padding-left:33px">MANGO 12PK</span><span class="c" style="left:154px;width:77px">United States</span><span class="c" style="left:232px;width:71px">Bracket I</span><span class="c" style="left:304px;width:70px">P303</span><span class="c" style="left:375px;width:80px">B3</span><span class="c" style="left:456px;width:71px">MANGO</span><span class="c" style="left:528px;width:92px">12PK</span><span class="c r" style="left:621px;width:52px">6</span><span class="c r" style="left:674px;width:99px">$70.02</span><span class="c r" style="left:774px;width:106px">-$2.10</span><span class="c r g" style="left:881px;width:70px">-3.00%</span><span class="c r" style="left:952px;width:112px">$67.92</span><span class="c r" style="left:1065px;width:108px">$97.03</span><span class="c r" style="left:1174px;width:132px">$16.17</span><span class="c r" style="left:1307px;width:128px">30.00%</span></div>
<div class="row alt" style="top:217.76px"><i class="rad"></i><span class="c" style="left:19px;width:134px;padding-left:33px">APPLE 24PK</span><span class="c" style="left:154px;width:77px">United States</span><span class="c" style="left:232px;width:71px">Bracket I</span><span class="c" style="left:304px;width:70px">P104</span><span class="c" style="left:375px;width:80px">B1</span><span class="c" style="left:456px;width:71px">APPLE</span><span class="c" style="left:528px;width:92px">24PK</span><span class="c r" style="left:621px;width:52px">4</span><span class="c r" style="left:674px;width:99px">$93.12</span><span class="c r" style="left:774px;width:106px">-$3.26</span><span class="c r g" style="left:881px;width:70px">-3.50%</span><span class="c r" style="left:952px;width:112px">$89.86</span><span class="c r" style="left:1065px;width:108px">$128.37</span><span class="c r" style="left:1174px;width:132px">$32.09</span><span class="c r" style="left:1307px;width:128px">30.00%</span></div>
<div class="row" style="top:239.4px"><i class="rad"></i><span class="c" style="left:19px;width:134px;padding-left:33px">BANANA 12PK</span><span class="c" style="left:154px;width:77px">United States</span><span class="c" style="left:232px;width:71px">Bracket I</span><span class="c" style="left:304px;width:70px">P203</span><span class="c" style="left:375px;width:80px">B2</span><span class="c" style="left:456px;width:71px">BANANA</span><span class="c" style="left:528px;width:92px">12PK</span><span class="c r" style="left:621px;width:52px">6</span><span class="c r" style="left:674px;width:99px">$70.02</span><span class="c r" style="left:774px;width:106px">-$2.10</span><span class="c r g" style="left:881px;width:70px">-3.00%</span><span class="c r" style="left:952px;width:112px">$67.92</span><span class="c r" style="left:1065px;width:108px">$97.03</span><span class="c r" style="left:1174px;width:132px">$16.17</span><span class="c r" style="left:1307px;width:128px">30.00%</span></div>
<div class="row" style="top:284.0px"><i class="rad"></i><span class="c" style="left:19px;width:134px;padding-left:33px">BANANA 24PK</span><span class="c" style="left:154px;width:77px">Canada</span><span class="c" style="left:232px;width:71px">Bracket I</span><span class="c" style="left:304px;width:70px">P204</span><span class="c" style="left:375px;width:80px">B2</span><span class="c" style="left:456px;width:71px">BANANA</span><span class="c" style="left:528px;width:92px">24PK</span><span class="c r" style="left:621px;width:52px">4</span><span class="c r" style="left:674px;width:99px">$93.12</span><span class="c r" style="left:774px;width:106px">-$3.26</span><span class="c r g" style="left:881px;width:70px">-3.50%</span><span class="c r" style="left:952px;width:112px">$89.86</span><span class="c r" style="left:1065px;width:108px">$128.37</span><span class="c r" style="left:1174px;width:132px">$32.09</span><span class="c r" style="left:1307px;width:128px">30.00%</span></div>
<div class="row alt" style="top:305.64px"><i class="rad"></i><span class="c" style="left:19px;width:134px;padding-left:33px">BANANA 06PK</span><span class="c" style="left:154px;width:77px">Canada</span><span class="c" style="left:232px;width:71px">Bracket I</span><span class="c" style="left:304px;width:70px">P202</span><span class="c" style="left:375px;width:80px">B2</span><span class="c" style="left:456px;width:71px">BANANA</span><span class="c" style="left:528px;width:92px">06PK</span><span class="c r" style="left:621px;width:52px">8</span><span class="c r" style="left:674px;width:99px">$47.04</span><span class="c r" style="left:774px;width:106px">-$1.18</span><span class="c r g" style="left:881px;width:70px">-2.50%</span><span class="c r" style="left:952px;width:112px">$45.86</span><span class="c r" style="left:1065px;width:108px">$65.52</span><span class="c r" style="left:1174px;width:132px">$8.19</span><span class="c r" style="left:1307px;width:128px">30.00%</span></div>
<div class="row" style="top:327.28px"><i class="rad"></i><span class="c" style="left:19px;width:134px;padding-left:33px">MANGO 12PK</span><span class="c" style="left:154px;width:77px">Canada</span><span class="c" style="left:232px;width:71px">Bracket I</span><span class="c" style="left:304px;width:70px">P303</span><span class="c" style="left:375px;width:80px">B3</span><span class="c" style="left:456px;width:71px">MANGO</span><span class="c" style="left:528px;width:92px">12PK</span><span class="c r" style="left:621px;width:52px">6</span><span class="c r" style="left:674px;width:99px">$70.02</span><span class="c r" style="left:774px;width:106px">-$2.10</span><span class="c r g" style="left:881px;width:70px">-3.00%</span><span class="c r" style="left:952px;width:112px">$67.92</span><span class="c r" style="left:1065px;width:108px">$97.03</span><span class="c r" style="left:1174px;width:132px">$16.17</span><span class="c r" style="left:1307px;width:128px">30.00%</span></div>
<div class="row alt" style="top:348.92px"><i class="rad"></i><span class="c" style="left:19px;width:134px;padding-left:33px">MANGO 04PK</span><span class="c" style="left:154px;width:77px">Canada</span><span class="c" style="left:232px;width:71px">Bracket I</span><span class="c" style="left:304px;width:70px">P301</span><span class="c" style="left:375px;width:80px">B3</span><span class="c" style="left:456px;width:71px">MANGO</span><span class="c" style="left:528px;width:92px">04PK</span><span class="c r" style="left:621px;width:52px">10</span><span class="c r" style="left:674px;width:99px">$40.00</span><span class="c r" style="left:774px;width:106px">-$1.00</span><span class="c r g" style="left:881px;width:70px">-2.50%</span><span class="c r" style="left:952px;width:112px">$39.00</span><span class="c r" style="left:1065px;width:108px">$55.71</span><span class="c r" style="left:1174px;width:132px">$5.57</span><span class="c r" style="left:1307px;width:128px">30.00%</span></div>
<div class="row" style="top:370.56px"><i class="rad"></i><span class="c" style="left:19px;width:134px;padding-left:33px">APPLE 06PK</span><span class="c" style="left:154px;width:77px">Canada</span><span class="c" style="left:232px;width:71px">Bracket I</span><span class="c" style="left:304px;width:70px">P102</span><span class="c" style="left:375px;width:80px">B1</span><span class="c" style="left:456px;width:71px">APPLE</span><span class="c" style="left:528px;width:92px">06PK</span><span class="c r" style="left:621px;width:52px">8</span><span class="c r" style="left:674px;width:99px">$47.04</span><span class="c r" style="left:774px;width:106px">-$1.18</span><span class="c r g" style="left:881px;width:70px">-2.50%</span><span class="c r" style="left:952px;width:112px">$45.86</span><span class="c r" style="left:1065px;width:108px">$65.52</span><span class="c r" style="left:1174px;width:132px">$8.19</span><span class="c r" style="left:1307px;width:128px">30.00%</span></div>
  </div>
  <i class="a" style="left:1439px;top:75px;width:0;height:0;border-left:5.5px solid transparent;border-right:5.5px solid transparent;border-bottom:8px solid #8a8a8a"></i>
  <i class="a" style="left:1440px;top:91px;width:9px;height:290px;border-radius:5px;background:#8a8a8a"></i>
  <i class="a" style="left:1439px;top:432px;width:0;height:0;border-left:5.5px solid transparent;border-right:5.5px solid transparent;border-top:8px solid #8a8a8a"></i>
  <i class="hl" style="left:0;top:448px;width:1453px;height:1px;background:#cfcfcf"></i>
</div>

<!-- PAGINATION -->
<div class="a" style="left:134px;top:780px;width:30px;height:30px;border-radius:50%;background:#d7d7d7"></div>
<div class="t" style="left:144px;top:790px;font-size:10.3px;color:#333">20</div>
<div class="t" style="left:179px;top:790px;font-size:10.3px;color:#333">50</div>
<div class="t" style="left:213.5px;top:790px;font-size:10.3px;color:#333">100</div>
<div class="t" style="left:1271.5px;top:790px;font-size:10.3px;color:#666">Page 1 of 5 (77 items)</div>
<svg class="a" style="left:1390.5px;top:787px" width="10" height="16" viewBox="0 0 10 16"><path d="M8.5 1 L2 8 L8.5 15" fill="none" stroke="#c4c4c4" stroke-width="1.4"/></svg>
<div class="a" style="left:1416px;top:780px;width:23px;height:29px;border-radius:11.5px;background:#d9d9d9"></div>
<div class="t" style="left:1424.5px;top:790px;font-size:10.3px;color:#333">1</div>
<div class="t" style="left:1453.5px;top:790px;font-size:10.3px;color:#333">2</div>
<div class="t" style="left:1482px;top:790px;font-size:10.3px;color:#333">3</div>
<div class="t" style="left:1510.7px;top:790px;font-size:10.3px;color:#333">4</div>
<div class="t" style="left:1540px;top:790px;font-size:10.3px;color:#333">5</div>
<svg class="a" style="left:1565px;top:787px" width="10" height="16" viewBox="0 0 10 16"><path d="M1.5 1 L8 8 L1.5 15" fill="none" stroke="#222" stroke-width="1.5"/></svg>
</body></html>
